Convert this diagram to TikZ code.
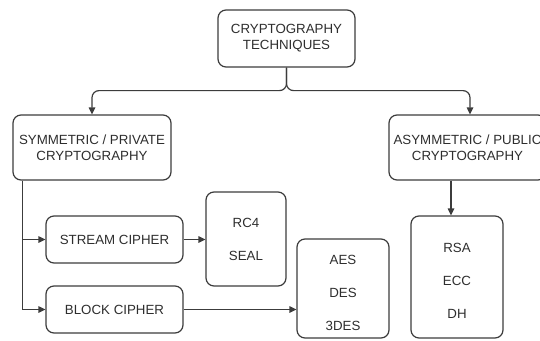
\documentclass[tikz,border=0pt]{standalone}
\usepackage{fontspec}
\setmainfont{Liberation Sans}
\usetikzlibrary{arrows.meta}
\definecolor{ln}{HTML}{3C3C3C}
\definecolor{tx}{HTML}{2E2E2E}
\begin{document}
\begin{tikzpicture}[x=1pt,y=-1pt,
  lbl/.style={align=center, text=tx, font=\fontsize{13.3}{16}\selectfont, inner sep=0pt},
  box/.style={draw=ln, line width=1.2pt, rounded corners=8pt, fill=white, inner sep=0pt, lbl},
  arr/.style={draw=ln, line width=1.2pt, -{Triangle[length=7pt,width=6.5pt]}}]
\useasboundingbox (0,0) rectangle (540,340);
\clip (0,0) rectangle (540,340);
\fill[white] (0,0) rectangle (540,340);
\node[box, minimum width=137pt, minimum height=57pt] (top) at (286.5,38.5) {CRYPTOGRAPHY\\TECHNIQUES};
\node[box, minimum width=158pt, minimum height=65pt] (sym) at (92,147.5) {SYMMETRIC / PRIVATE\\CRYPTOGRAPHY};
\node[box, minimum width=157pt, minimum height=65pt] (asym) at (467.5,147.5) {\makebox[0pt][c]{ASYMMETRIC / PUBLIC}\\CRYPTOGRAPHY};
\node[box, minimum width=137pt, minimum height=47pt] (stream) at (114.5,239.5) {STREAM CIPHER};
\node[box, minimum width=137pt, minimum height=47pt] (block) at (114.5,309.5) {BLOCK CIPHER};
\node[box, minimum width=80pt, minimum height=94pt] (rc4) at (246,239) {RC4\\[17pt]SEAL};
\node[box, minimum width=92pt, minimum height=99pt,
  label={[lbl, yshift=-4pt]center:AES\\[17pt]DES\\[17pt]3DES}] (aes) at (343,288.5) {};
\node[box, minimum width=92pt, minimum height=122pt,
  label={[lbl, yshift=-4pt]center:RSA\\[17pt]ECC\\[17pt]DH}] (rsa) at (457,277) {};
\draw[arr, rounded corners=7pt] (top.south) -- ++(0,23) -| (sym.north);
\draw[arr, rounded corners=7pt] (top.south) -- ++(0,23) -| ([xshift=2.5pt]asym.north);
\coordinate (sbr) at ([xshift=10pt]sym.south west);
\draw[arr] (sbr) |- (stream.west);
\draw[arr] (sbr) |- (block.west);
\draw[arr] (stream.east) -- (stream.east -| rc4.west);
\draw[arr] (block.east) -- (block.east -| aes.west);
\draw[arr] ([xshift=-6pt]rsa.north |- asym.south) -- ([xshift=-6pt]rsa.north);
\end{tikzpicture}
\end{document}
